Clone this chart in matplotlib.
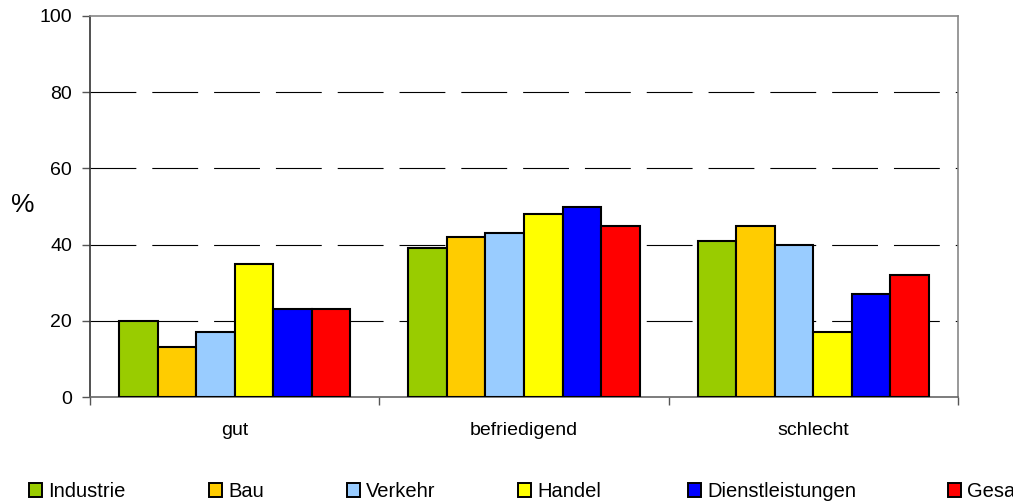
import matplotlib
matplotlib.use("Agg")
import matplotlib.pyplot as plt
from matplotlib.patches import Patch
import numpy as np

plt.rcParams['font.family'] = ['Liberation Sans', 'DejaVu Sans']
plt.rcParams['lines.scale_dashes'] = False

categories = ["gut", "befriedigend", "schlecht"]
series_names = ["Industrie", "Bau", "Verkehr", "Handel", "Dienstleistungen", "Gesamt"]
industrie = [20, 39, 41]
bau = [13, 42, 45]
verkehr = [17, 43, 40]
handel = [35, 48, 17]
dienstleistungen = [23, 50, 27]
gesamt = [23, 45, 32]
series_values = [industrie, bau, verkehr, handel, dienstleistungen, gesamt]
colors = ["#99CC00", "#FFCC00", "#99CCFF", "#FFFF00", "#0000FF", "#FF0000"]
yticks = [0, 20, 40, 60, 80, 100]

fig = plt.figure(figsize=(10.13, 5.04), dpi=100)
ax = fig.add_axes([90/1013, 1-397/504, (958-90)/1013, (397-16)/504])

x = np.arange(len(categories))
n = len(series_values)
group_w = 0.8
bw = group_w / n
for i, (vals, c) in enumerate(zip(series_values, colors)):
    ax.bar(x - group_w/2 + bw*(i+0.5), vals, width=bw, color=c,
           edgecolor='black', linewidth=1.5, zorder=3)

ax.set_xlim(-0.5, len(categories)-0.5)
ax.set_ylim(0, 100)
ax.set_yticks(yticks)
ax.set_yticklabels([str(t) for t in yticks], fontsize=14)
ax.set_xticks(x)
ax.set_xticklabels(categories, fontsize=14)
ax.set_xticks(np.arange(-0.5, len(categories), 1.0), minor=True)
ax.tick_params(axis='x', which='major', length=0, pad=18)
ax.tick_params(axis='x', which='minor', length=6, direction='out', color='#555555', width=1)
ax.tick_params(axis='y', length=6, direction='out', color='#555555', width=1, pad=7)

for yv in yticks[1:-1]:
    ax.axhline(yv, color='black', linewidth=0.8, linestyle=(0, (33, 11.5)), zorder=1)

ax.spines['left'].set_color('#333333')
ax.spines['left'].set_linewidth(1.2)
ax.spines['bottom'].set_color('#666666')
ax.spines['bottom'].set_linewidth(1.2)
ax.spines['top'].set_color('#888888')
ax.spines['top'].set_linewidth(1.2)
ax.spines['right'].set_color('#888888')
ax.spines['right'].set_linewidth(1.2)

fig.text(23/1013, 1-205/504, "%", fontsize=19, ha='center', va='center')

legend_x = [29, 209, 347, 518, 688, 948]
for name, c, lx in zip(series_names, colors, legend_x):
    fig.legend(handles=[Patch(facecolor=c, edgecolor='black', linewidth=1.4)],
               labels=[name], loc='center left',
               bbox_to_anchor=(lx/1013, 1-491.5/504), frameon=False,
               borderpad=0, borderaxespad=0, handlelength=0.65, handleheight=0.65,
               handletextpad=0.3, fontsize=14.5)

fig.savefig("out.png", dpi=100)
